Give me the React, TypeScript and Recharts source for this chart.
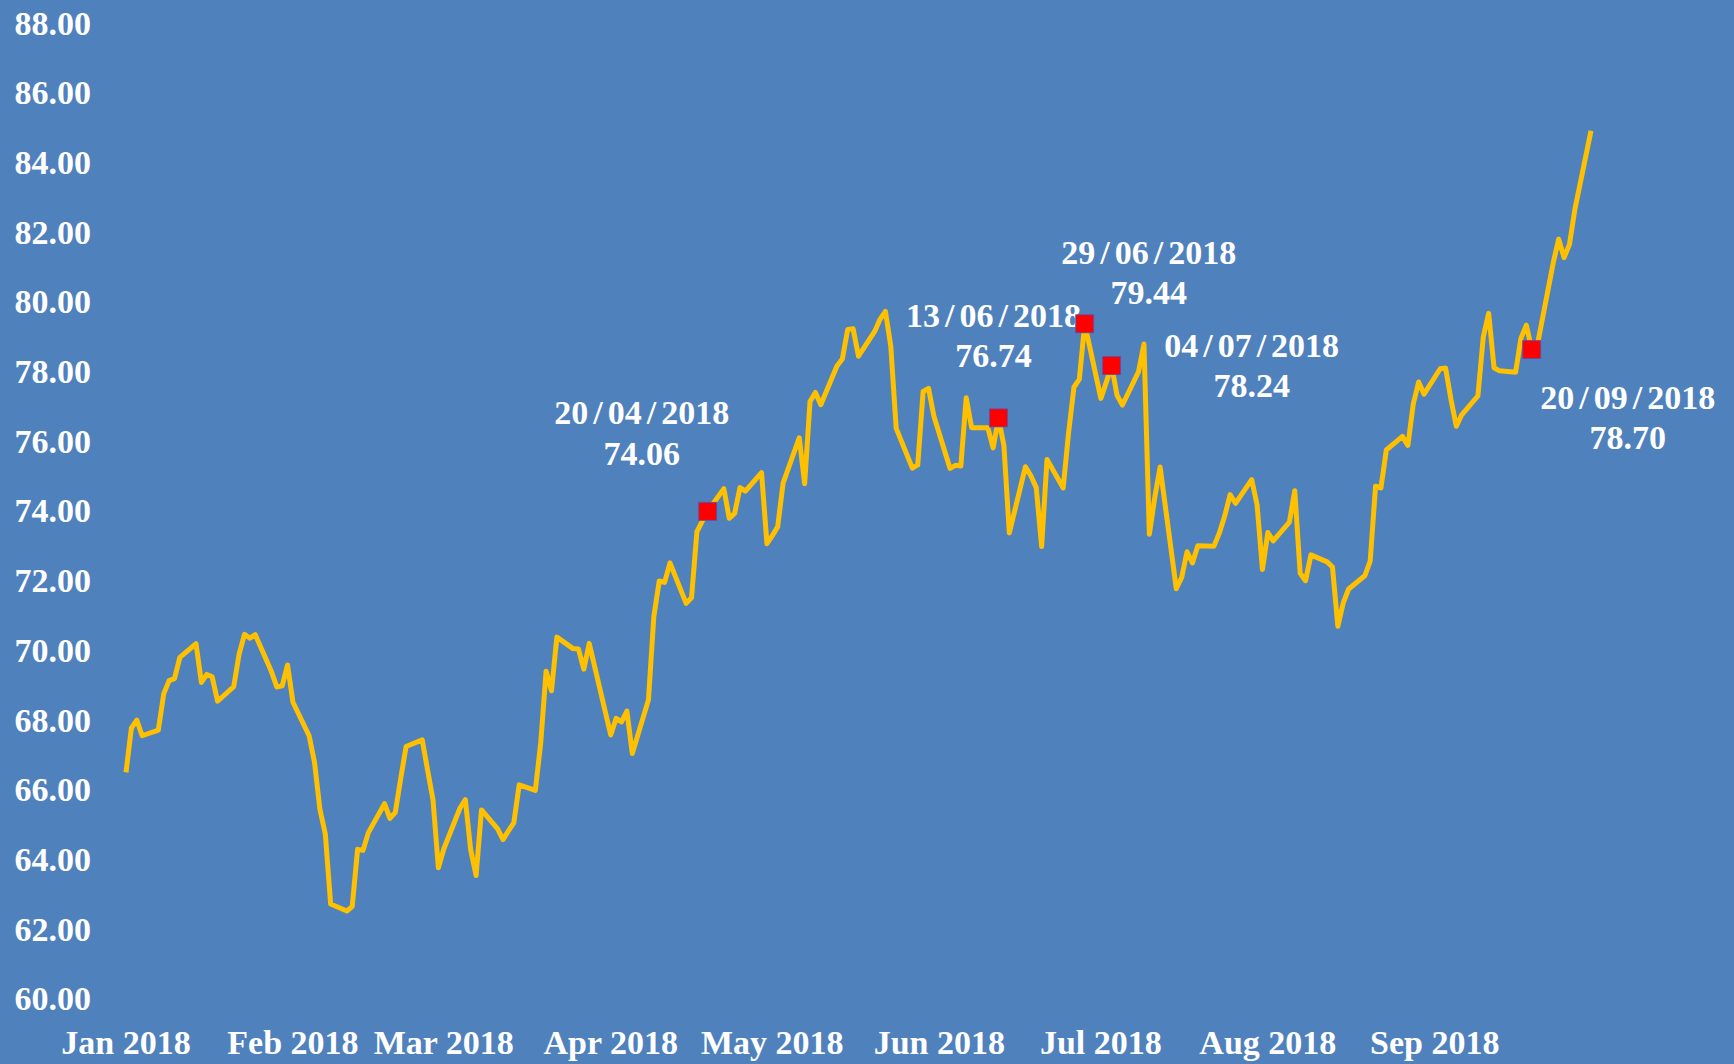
import { LineChart, Line, XAxis, YAxis } from "recharts"

// Brent close, one entry per trading session (DD/MM, 2018)
const sessionDates = [
  "02/01", "03/01", "04/01", "05/01", "08/01", "09/01", "10/01", "11/01", "12/01", "15/01", "16/01",
  "17/01", "18/01", "19/01", "22/01", "23/01", "24/01", "25/01", "26/01", "29/01", "30/01", "31/01",
  "01/02", "02/02", "05/02", "06/02", "07/02", "08/02", "09/02", "12/02", "13/02", "14/02",
  "15/02", "16/02", "19/02", "20/02", "21/02", "22/02", "23/02", "26/02", "27/02", "28/02",
  "01/03", "02/03", "05/03", "06/03", "07/03", "08/03", "09/03", "12/03", "13/03", "14/03", "15/03",
  "16/03", "19/03", "20/03", "21/03", "22/03", "23/03", "26/03", "27/03", "28/03", "29/03",
  "02/04", "03/04", "04/04", "05/04", "06/04", "09/04", "10/04", "11/04", "12/04", "13/04", "16/04",
  "17/04", "18/04", "19/04", "20/04", "23/04", "24/04", "25/04", "26/04", "27/04", "30/04",
  "01/05", "02/05", "03/05", "04/05", "07/05", "08/05", "09/05", "10/05", "11/05", "14/05", "15/05", "16/05",
  "17/05", "18/05", "21/05", "22/05", "23/05", "24/05", "25/05", "28/05", "29/05", "30/05", "31/05",
  "01/06", "04/06", "05/06", "06/06", "07/06", "08/06", "11/06", "12/06", "13/06", "14/06", "15/06",
  "18/06", "19/06", "20/06", "21/06", "22/06", "25/06", "26/06", "27/06", "28/06", "29/06",
  "02/07", "03/07", "04/07", "05/07", "06/07", "09/07", "10/07", "11/07", "12/07", "13/07", "16/07",
  "17/07", "18/07", "19/07", "20/07", "23/07", "24/07", "25/07", "26/07", "27/07", "30/07", "31/07",
  "01/08", "02/08", "03/08", "06/08", "07/08", "08/08", "09/08", "10/08", "13/08", "14/08", "15/08", "16/08",
  "17/08", "20/08", "21/08", "22/08", "23/08", "24/08", "27/08", "28/08", "29/08", "30/08", "31/08",
  "03/09", "04/09", "05/09", "06/09", "07/09", "10/09", "11/09", "12/09", "13/09", "14/09",
  "17/09", "18/09", "19/09", "20/09", "21/09", "24/09", "25/09", "26/09", "27/09", "28/09",
  "01/10",
]

const brentClose = [
  66.57, 67.84, 68.07, 67.62, 67.78, 68.82, 69.2, 69.26, 69.87, 70.26, 69.15,
  69.38, 69.31, 68.61, 69.03, 69.96, 70.53, 70.42, 70.52, 69.46, 69.02, 69.05,
  69.65, 68.58, 67.62, 66.86, 65.51, 64.81, 62.79, 62.59, 62.72, 64.36,
  64.33, 64.84, 65.67, 65.25, 65.42, 66.39, 67.31, 67.5, 66.63, 65.78,
  63.83, 64.37, 65.54, 65.79, 64.34, 63.61, 65.49, 64.95, 64.64, 64.89, 65.12,
  66.21, 66.05, 67.42, 69.47, 68.91, 70.45, 70.12, 70.11, 69.53, 70.27,
  67.64, 68.12, 68.02, 68.33, 67.11, 68.65, 71.04, 72.06, 72.02, 72.58, 71.42,
  71.58, 73.48, 73.78, 74.06, 74.71, 73.86, 74.0, 74.74, 74.64, 75.17,
  73.13, 73.36, 73.62, 74.87, 76.17, 74.85, 77.21, 77.47, 77.12, 78.23, 78.43, 79.28,
  79.3, 78.51, 79.22, 79.57, 79.8, 78.79, 76.44, 75.3, 75.39, 77.5, 77.59,
  76.79, 75.29, 75.38, 75.36, 77.32, 76.46, 76.46, 75.88, 76.74, 75.94, 73.44,
  75.34, 75.08, 74.74, 73.05, 75.55, 74.73, 76.31, 77.62, 77.85, 79.44,
  77.3, 77.76, 78.24, 77.39, 77.11, 78.07, 78.86, 73.4, 74.45, 75.33, 71.84,
  72.16, 72.9, 72.58, 73.07, 73.06, 73.44, 73.93, 74.54, 74.29, 74.97, 74.25,
  72.39, 73.45, 73.21, 73.75, 74.65, 72.28, 72.07, 72.81, 72.61, 72.46, 70.76, 71.43,
  71.83, 72.21, 72.63, 74.78, 74.73, 75.82, 76.21, 75.95, 77.14, 77.77, 77.42,
  78.15, 78.17, 77.27, 76.5, 76.83, 77.37, 79.06, 79.74, 78.18, 78.09,
  78.05, 79.03, 79.4, 78.7, 78.8, 81.2, 81.87, 81.34, 81.72, 82.72,
  84.98,
]

const markedDates = ["20/04", "13/06", "29/06", "04/07", "20/09"]

const monthTickDates = ["02/01", "02/02", "02/03", "02/04", "02/05", "02/06", "02/07", "02/08", "02/09"]
const monthLabels = ["Jan 2018", "Feb 2018", "Mar 2018", "Apr 2018", "May 2018", "Jun 2018", "Jul 2018", "Aug 2018", "Sep 2018"]

const priceTicks = [60, 62, 64, 66, 68, 70, 72, 74, 76, 78, 80, 82, 84, 86, 88]

const YEAR = 2018
const BG = "#4F81BD"
const LINE_COLOR = "#FFC000"
const MARK_COLOR = "#FF0000"
const FONT = '"Liberation Serif", "Times New Roman", serif'

// where each callout sits, relative to its marker centre
const LABEL_OFFSETS: Record<string, { dx: number; dy: number }> = {
  "20/04": { dx: -66, dy: -99 },
  "13/06": { dx: -5, dy: -103 },
  "29/06": { dx: 64, dy: -72 },
  "04/07": { dx: 140, dy: -21 },
  "20/09": { dx: 96, dy: 47 },
}
const LINE_GAP = 41
const SLASH_PAD = 5

function dayIndex(ddmm: string) {
  const [d, m] = ddmm.split("/").map(Number)
  return (Date.UTC(YEAR, m - 1, d) - Date.UTC(YEAR, 0, 2)) / 86400000
}

const chartData = sessionDates.map((date, i) => ({
  day: dayIndex(date),
  date,
  price: brentClose[i],
  mark: markedDates.includes(date) ? brentClose[i] : null,
}))

const monthTickDays = monthTickDates.map(dayIndex)
const lastDay = dayIndex(sessionDates[sessionDates.length - 1])

const textStyle = {
  fill: "#FFFFFF",
  fontSize: 34,
  fontWeight: "bold" as const,
  fontFamily: FONT,
}

function renderMarker(props: any) {
  const { cx, cy, payload, index } = props
  if (payload?.mark == null || cx == null || cy == null) return <g key={`m-${index}`} />
  const off = LABEL_OFFSETS[payload.date]
  const tx = cx + off.dx
  const ty = cy + off.dy
  const parts = `${payload.date}/${YEAR}`.split("/")
  return (
    <g key={`m-${index}`}>
      <rect x={cx - 9} y={cy - 9} width={18} height={18} fill={MARK_COLOR} stroke="#5a50b0" strokeWidth={0.8} />
      <text x={tx} y={ty} textAnchor="middle" dominantBaseline="central" style={textStyle}>
        {parts.map((p, i) =>
          i === 0 ? (
            <tspan key={`p${i}`}>{p}</tspan>
          ) : (
            [
              <tspan key={`s${i}`} dx={SLASH_PAD}>/</tspan>,
              <tspan key={`p${i}`} dx={SLASH_PAD}>{p}</tspan>,
            ]
          )
        )}
      </text>
      <text x={tx} y={ty + LINE_GAP} textAnchor="middle" dominantBaseline="central" style={textStyle}>
        {payload.mark.toFixed(2)}
      </text>
    </g>
  )
}

export default function App() {
  return (
    <div style={{ width: 1734, height: 1064, background: BG }}>
      <style>{"body{margin:0}"}</style>
      <LineChart
        width={1734}
        height={1064}
        data={chartData}
        margin={{ top: 25.5, right: 143, bottom: 32.7, left: 0 }}
      >
        <XAxis
          dataKey="day"
          type="number"
          domain={[0, lastDay]}
          ticks={monthTickDays}
          interval={0}
          tickFormatter={(v: number) => monthLabels[monthTickDays.indexOf(v)] ?? ""}
          axisLine={false}
          tickLine={false}
          tickMargin={23}
          height={30}
          tick={textStyle}
        />
        <YAxis
          type="number"
          domain={[60, 88]}
          ticks={priceTicks}
          interval={0}
          tickFormatter={(v: number) => v.toFixed(2)}
          axisLine={false}
          tickLine={false}
          tickMargin={29}
          width={126}
          tick={{ ...textStyle, dy: -3 }}
        />
        <Line
          dataKey="price"
          stroke={LINE_COLOR}
          strokeWidth={5}
          strokeLinejoin="round"
          dot={false}
          activeDot={false}
          isAnimationActive={false}
        />
        <Line
          dataKey="mark"
          stroke="none"
          dot={renderMarker}
          activeDot={false}
          connectNulls={false}
          isAnimationActive={false}
        />
      </LineChart>
    </div>
  )
}
